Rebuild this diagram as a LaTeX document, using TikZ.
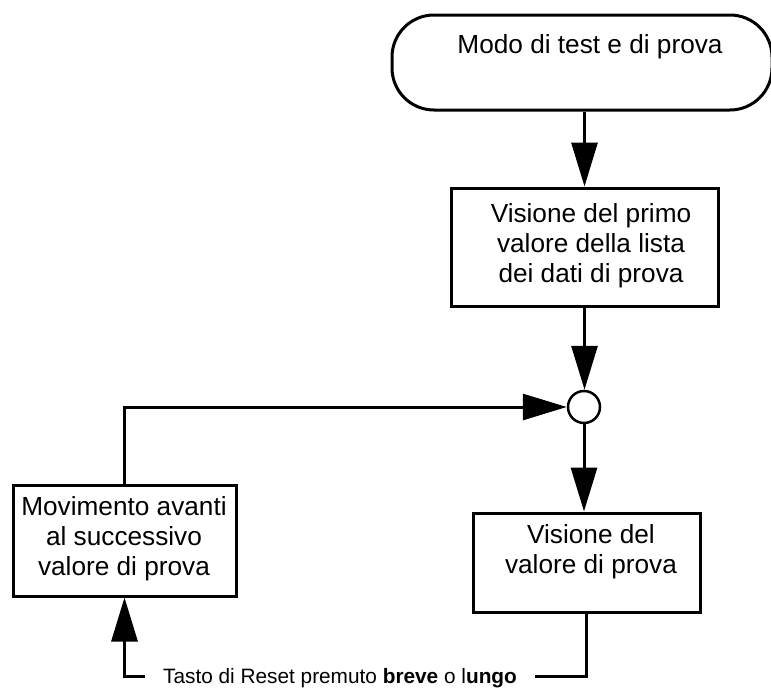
\documentclass[tikz,border=0pt]{standalone}
\usepackage{fontspec}
\setmainfont{Liberation Sans}
\usetikzlibrary{arrows.meta}
% a centred block of lines whose baseline is that of its first line
\newcommand\txtlines[1]{\begin{tabular}[t]{@{}c@{}}#1\end{tabular}}
\begin{document}
\begin{tikzpicture}[x=1pt,y=-1pt,
  line width=3pt,
  arr/.style={-{Triangle[length=44pt,width=26pt]}},
  box/.style={draw, rectangle, inner sep=0pt},
  lbl/.style={inner sep=0pt, anchor=base, font=\fontsize{26.2}{30}\selectfont},
  small/.style={inner sep=0pt, anchor=base, font=\fontsize{20.8}{24}\selectfont}]
\useasboundingbox (0,0) rectangle (771,688);
\clip (0,0) rectangle (771,688);

% start terminal
\node[box, rounded corners=42pt, minimum width=380pt, minimum height=95pt] (term) at (582,62.5) {};
\node[lbl] (termtxt) at (590,53) {Modo di test e di prova};

% process boxes
\node[box, minimum width=267pt, minimum height=118pt] (box1) at (584.5,247) {};
\node[lbl] (box1txt) at (591,222) {\txtlines{Visione del primo\\valore della lista\\dei dati di prova}};

\node[box, minimum width=227pt, minimum height=99pt] (box2) at (586.5,562.5) {};
\node[lbl] (box2txt) at (591,543) {\txtlines{Visione del\\valore di prova}};

\node[box, minimum width=223pt, minimum height=111pt] (left) at (124.5,540.5) {};
\node[lbl] (lefttxt) at (124,515) {\txtlines{Movimento avanti\\al successivo\\valore di prova}};

% junction
\node[draw, circle, fill=white, minimum size=32pt, inner sep=0pt, line width=2.5pt] (j) at (584,407) {};

% main flow
\draw[arr] (term.south -| box1.north) -- (box1.north);
\draw[arr] (box1.south) -- (box1.south |- j.north);
\draw[arr] (j.south) -- (j.south |- box2.north);
\draw[arr] (left.north) |- (j.west);

% return path with the key label
\coordinate (kr) at (535,676);
\coordinate (kl) at (145,676);
\draw (box2.south) |- (kr);
\draw[arr] (kl) -| (left.south);
\node[small] (key) at (340,683) {Tasto di Reset premuto \textbf{breve} o l\textbf{ungo}};
\end{tikzpicture}
\end{document}
